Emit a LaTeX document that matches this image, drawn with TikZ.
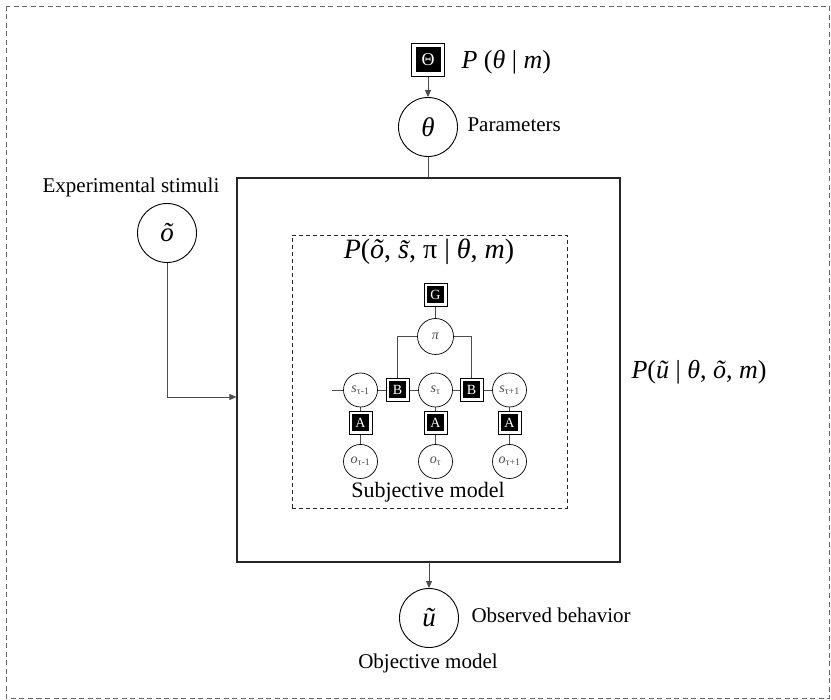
\documentclass[tikz,border=0pt]{standalone}
\usepackage{fontspec}
\setmainfont{Liberation Serif}
\usetikzlibrary{arrows.meta}
\pgfdeclarelayer{bg}
\pgfsetlayers{bg,main}
\begin{document}
\begin{tikzpicture}[x=1pt,y=-1pt,
 var/.style={circle,draw=black,fill=white,line width=0.9pt,minimum size=59pt,inner sep=0pt,font=\fontsize{27}{28}\selectfont\itshape},
 svar/.style={circle,draw=black,fill=white,line width=0.7pt,minimum size=34pt,inner sep=0pt,font=\fontsize{14}{14}\selectfont\itshape,text=black!70},
 fac/.style={rectangle,draw=black,fill=white,text=white,line width=0.7pt,minimum size=23pt,inner sep=0pt,font=\fontsize{14}{14}\selectfont,
   path picture={\fill[black] ([shift={(#1,#1)}]path picture bounding box.south west) rectangle ([shift={(-#1,-#1)}]path picture bounding box.north east);}},
 fac/.default=3pt,
 lbl/.style={font=\fontsize{21}{24}\selectfont},
 mlbl/.style={font=\fontsize{26}{28}\selectfont},
 conn/.style={draw=black!70,line width=0.8pt},
 arr/.style={conn,-{Triangle[length=7pt,width=6pt]}},
]
\useasboundingbox (0,0) rectangle (831,700);
\draw[black!60,line width=0.8pt,dash pattern=on 5pt off 3.5pt] (6,6) rectangle (829,698);

% objective model box
\node[draw=black!85,line width=1.2pt,minimum width=383pt,minimum height=384pt,inner sep=0pt] (main) at (428.5,370) {};
% subjective model box
\node[draw=black!85,line width=0.9pt,dash pattern=on 4pt off 3pt,minimum width=275pt,minimum height=273pt,inner sep=0pt] (sub) at (429.5,371.5) {};

% parameters
\node[fac=4pt,minimum size=33pt,line width=0.8pt,font=\fontsize{18}{18}\selectfont] (Th) at (428,60) {Θ};
\node[var] (theta) at (428,127) {θ};
\node[mlbl,anchor=west] (pth) at (458,62) {\textit{P} (\textit{θ} | \textit{m})};
\node[lbl,anchor=west] (par) at (464,125) {Parameters};

% stimuli
\node[var] (ot) at (167,233) {õ};
\node[lbl] (exp) at (131,187) {Experimental stimuli};
\coordinate (bend) at (167,397);

% subjective model
\node[mlbl,font=\fontsize{28}{30}\selectfont] (pjoint) at (429,252) {\textit{P}(\textit{õ}, \textit{\~{s}}, π | \textit{θ}, \textit{m})};
\node[fac] (G) at (435.5,294.5) {G};
\node[svar,minimum size=36pt] (pi) at (435.5,336.5) {π};

\node[svar] (s1) at (360.5,390) {s\textsubscript{\upshape τ-1}};
\node[fac] (B1) at (397.5,390) {B};
\node[svar] (s2) at (435.5,390) {s\textsubscript{\upshape τ}};
\node[fac] (B2) at (471.5,390) {B};
\node[svar] (s3) at (509.5,390) {s\textsubscript{\upshape τ+1}};
\coordinate (sl) at (332,390);

\node[fac] (A1) at (360.5,423) {A};
\node[fac] (A2) at (435.5,423) {A};
\node[fac] (A3) at (509.5,423) {A};
\node[svar] (o1) at (360.5,461.5) {o\textsubscript{\upshape τ-1}};
\node[svar] (o2) at (435.5,461.5) {o\textsubscript{\upshape τ}};
\node[svar] (o3) at (509.5,461.5) {o\textsubscript{\upshape τ+1}};
\node[font=\fontsize{22}{24}\selectfont] (subj) at (428,492) {Subjective model};

% likelihood
\node[mlbl,anchor=west] (pu) at (628,372) {\textit{P}(\textit{ũ} | \textit{θ}, \textit{õ}, \textit{m})};

% observed behaviour
\node[var] (u) at (429,618) {ũ};
\node[lbl,anchor=west] (obs) at (468,615) {Observed behavior};
\node[lbl] (objm) at (428,663) {Objective model};

% connectors
\draw[arr] (Th) -- (theta);
\draw[conn] (theta) -- (theta |- main.north);
\draw[arr] (ot) -- (bend) -- (bend -| main.west);
\draw[arr] (main.south -| u) -- (u);
\begin{pgfonlayer}{bg}
\draw[conn] (G) -- (pi);
\draw[conn] (sl) -- (s1) (s1) -- (B1) (B1) -- (s2) (s2) -- (B2) (B2) -- (s3);
\draw[conn] (pi) -| (B1);
\draw[conn] (pi) -| (B2);
\draw[conn] (s1) -- (A1) (A1) -- (o1);
\draw[conn] (s2) -- (A2) (A2) -- (o2);
\draw[conn] (s3) -- (A3) (A3) -- (o3);
\end{pgfonlayer}
\end{tikzpicture}
\end{document}
